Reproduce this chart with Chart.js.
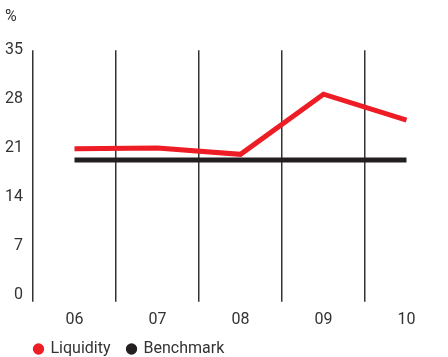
<!DOCTYPE html>
<html>
<head>
<meta charset="utf-8">
<script src="https://cdn.jsdelivr.net/npm/chart.js@4/dist/chart.umd.min.js"></script>
<style>
  html, body { margin: 0; padding: 0; background: #fff; }
  #wrap { width: 448px; height: 357px; }
</style>
</head>
<body>
<div id="wrap"><canvas id="chart"></canvas></div>
<script>
const years = ['06', '07', '08', '09', '10'];
const liquidity = [20.9, 21.0, 20.1, 28.7, 25.0];
const benchmark = [19.3, 19.3, 19.3, 19.3, 19.3];
const yTicks = [0, 7, 14, 21, 28, 35];

const FONT = 'Roboto, "DejaVu Sans", sans-serif';
const TEXT = '#333333';

// Line the legend's first marker up with the plot's left edge.
const legendIndent = {
  id: 'legendIndent',
  afterLayout(chart) {
    const lg = chart.legend;
    if (!lg) return;
    const shift = chart.chartArea.left + 1.5 - lg.left - lg.options.labels.padding;
    lg.left += shift;
    lg.right += shift;
  }
};

new Chart(document.getElementById('chart'), {
  type: 'line',
  data: {
    labels: years,
    datasets: [
      {
        label: 'Liquidity',
        data: liquidity,
        borderColor: '#ee1c25',
        backgroundColor: '#ee1c25',
        borderWidth: 5,
        pointRadius: 0,
        tension: 0,
        order: 1
      },
      {
        label: 'Benchmark',
        data: benchmark,
        borderColor: '#231f20',
        backgroundColor: '#231f20',
        borderWidth: 5,
        pointRadius: 0,
        tension: 0,
        order: 2
      }
    ]
  },
  plugins: [legendIndent],
  options: {
    responsive: true,
    maintainAspectRatio: false,
    animation: false,
    layout: { padding: { left: 5, right: 0, top: 4, bottom: -10 } },
    plugins: {
      tooltip: { enabled: false },
      title: {
        display: true,
        text: '%',
        align: 'start',
        color: TEXT,
        font: { family: FONT, size: 16, weight: 'normal' },
        padding: { top: 3, bottom: 24 }
      },
      legend: {
        position: 'bottom',
        align: 'start',
        labels: {
          usePointStyle: true,
          pointStyle: 'circle',
          boxWidth: 8,
          boxHeight: 8,
          padding: 17,
          color: TEXT,
          font: { family: FONT, size: 16 },
          // solid dots without the thick series outline
          generateLabels: (chart) =>
            Chart.defaults.plugins.legend.labels.generateLabels(chart)
              .map(item => ({ ...item, lineWidth: 0 }))
        }
      }
    },
    scales: {
      x: {
        offset: true,
        border: { display: false },
        afterFit: (axis) => { axis.height -= 15; },
        grid: {
          offset: true,
          drawTicks: true,
          tickLength: 7,
          lineWidth: 1.5,
          // boundary lines between years; the closing edge on the right stays blank
          color: (ctx) => (ctx.type === 'tick' ? '#333333' : 'rgba(0,0,0,0)')
        },
        ticks: {
          color: TEXT,
          padding: 9,
          font: { family: FONT, size: 16 }
        }
      },
      y: {
        min: 0,
        max: 35,
        afterBuildTicks: (axis) => { axis.ticks = yTicks.map(v => ({ value: v })); },
        afterFit: (axis) => { axis.width = 28; },
        border: { display: false },
        grid: { display: false, drawTicks: false },
        ticks: {
          color: TEXT,
          padding: 10,
          font: { family: FONT, size: 16 }
        }
      }
    }
  }
});
</script>
</body>
</html>
